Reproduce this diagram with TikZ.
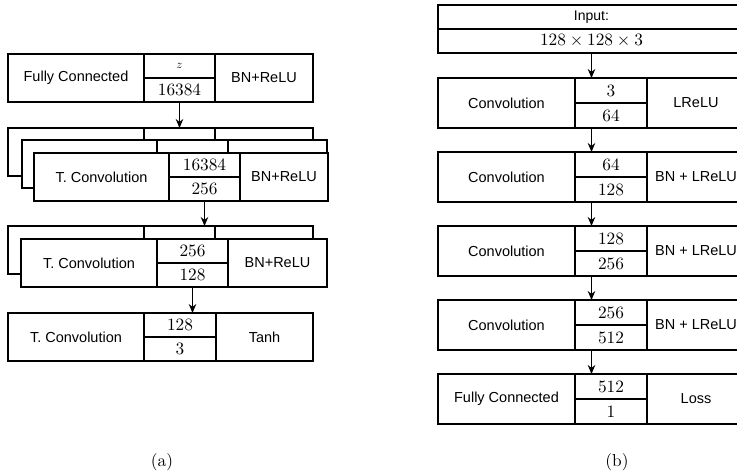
\documentclass[tikz,border=0pt]{standalone}
\usepackage{amsmath}
\usepackage{fontspec}
\newfontfamily\lblfont{Liberation Sans}
\usetikzlibrary{positioning,arrows.meta}
\newcommand{\nm}[1]{{\normalsize\scalebox{1.73}{$#1$}}}

\begin{document}
\begin{tikzpicture}[x=1pt, y=-1pt,
cell/.style={draw=black, fill=white, line width=1.7pt, outer sep=0pt, inner sep=0pt, font=\lblfont\fontsize{14.5}{17}\selectfont},
lcell/.style={cell, minimum width=136pt, minimum height=48pt},
mcell/.style={cell, minimum width=71pt, minimum height=24pt},
rcell/.style={cell, minimum width=98pt, minimum height=48pt},
blcell/.style={cell, minimum width=137pt, minimum height=50pt},
bmcell/.style={cell, minimum width=72pt, minimum height=25pt},
brcell/.style={cell, minimum width=98pt, minimum height=50pt},
arrow/.style={-{Stealth[length=9pt,width=7.5pt]}, line width=1.2pt},
caption/.style={font=\normalsize}
]
\useasboundingbox (0,0) rectangle (737,472);
\clip (0,0) rectangle (737,472);

%Nodes (a)
\node[lcell, anchor=north west]                  (fc)     at (8,54)  {Fully Connected};
\node[mcell, below right=0pt and 0pt of fc.north east]    (fcin)    {{\normalsize\scalebox{1.2}{$z$}}};
\node[mcell, below=0pt of fcin]                           (fcout)   {\nm{16384}};
\node[rcell, below right=0pt and 0pt of fcin.north east]  (fcact)   {BN+ReLU};

\node[lcell, anchor=north west]                  (ta)     at (8,128)  {};
\node[mcell, minimum height=48pt, below right=0pt and 0pt of ta.north east]  (tam)  {};
\node[rcell, below right=0pt and 0pt of tam.north east]   (tar)     {};
\node[lcell, minimum width=135pt, anchor=north west]     (tb)  at (22,140) {};
\node[mcell, minimum height=48pt, below right=0pt and 0pt of tb.north east]  (tbm)  {};
\node[rcell, minimum width=99pt, below right=0pt and 0pt of tbm.north east]  (tbr)  {};
\node[lcell, minimum width=135pt, anchor=north west]     (tc)  at (34,153) {T. Convolution};
\node[mcell, below right=0pt and 0pt of tc.north east]    (tcin)    {\nm{16384}};
\node[mcell, below=0pt of tcin]                           (tcout)   {\nm{256}};
\node[rcell, minimum width=88pt, below right=0pt and 0pt of tcin.north east] (tcact) {BN+ReLU};

\node[lcell, anchor=north west]                  (ua)     at (8,226)  {};
\node[mcell, minimum height=48pt, below right=0pt and 0pt of ua.north east]  (uam)  {};
\node[rcell, below right=0pt and 0pt of uam.north east]   (uar)     {};
\node[lcell, anchor=north west]                  (ub)     at (21,239) {T. Convolution};
\node[mcell, below right=0pt and 0pt of ub.north east]    (ubin)    {\nm{256}};
\node[mcell, below=0pt of ubin]                           (ubout)   {\nm{128}};
\node[rcell, minimum width=99pt, below right=0pt and 0pt of ubin.north east] (ubact) {BN+ReLU};

\node[lcell, anchor=north west]                  (out)    at (8,313)  {T. Convolution};
\node[mcell, minimum width=72pt, below right=0pt and 0pt of out.north east] (outin)  {\nm{128}};
\node[mcell, minimum width=72pt, below=0pt of outin]     (outout)  {\nm{3}};
\node[rcell, minimum width=97pt, below right=0pt and 0pt of outin.north east] (outact) {Tanh};

%Nodes (b)
\node[cell, minimum width=307pt, minimum height=24pt, anchor=north west, font=\lblfont\fontsize{14}{16}\selectfont] (inp) at (438,5) {Input:};
\node[cell, minimum width=307pt, minimum height=24pt, below=0pt of inp] (inpsize) {\nm{128\times128\times3}};

\node[blcell, anchor=north west]                 (cv1)    at (438,78) {Convolution};
\node[bmcell, below right=0pt and 0pt of cv1.north east]  (cv1in)   {\nm{3}};
\node[bmcell, below=0pt of cv1in]                         (cv1out)  {\nm{64}};
\node[brcell, below right=0pt and 0pt of cv1in.north east] (cv1act) {LReLU};

\node[blcell, below=24pt of cv1]                          (cv2)     {Convolution};
\node[bmcell, below right=0pt and 0pt of cv2.north east]  (cv2in)   {\nm{64}};
\node[bmcell, below=0pt of cv2in]                         (cv2out)  {\nm{128}};
\node[brcell, below right=0pt and 0pt of cv2in.north east] (cv2act) {BN + LReLU};

\node[blcell, below=24pt of cv2]                          (cv3)     {Convolution};
\node[bmcell, below right=0pt and 0pt of cv3.north east]  (cv3in)   {\nm{128}};
\node[bmcell, below=0pt of cv3in]                         (cv3out)  {\nm{256}};
\node[brcell, below right=0pt and 0pt of cv3in.north east] (cv3act) {BN + LReLU};

\node[blcell, below=24pt of cv3]                          (cv4)     {Convolution};
\node[bmcell, below right=0pt and 0pt of cv4.north east]  (cv4in)   {\nm{256}};
\node[bmcell, below=0pt of cv4in]                         (cv4out)  {\nm{512}};
\node[brcell, below right=0pt and 0pt of cv4in.north east] (cv4act) {BN + LReLU};

\node[blcell, below=24pt of cv4]                          (dfc)     {Fully Connected};
\node[bmcell, below right=0pt and 0pt of dfc.north east]  (dfcin)   {\nm{512}};
\node[bmcell, below=0pt of dfcin]                         (dfcout)  {\nm{1}};
\node[brcell, below right=0pt and 0pt of dfcin.north east] (dfcact) {Loss};

\node[caption] (capa) at (162,462) {\scalebox{1.73}{(a)}};
\node[caption] (capb) at (617,462) {\scalebox{1.73}{(b)}};

%Lines
\draw[arrow] (fcout) -- (fcout |- ta.north);
\draw[arrow] (tcout) -- (tcout |- ua.north);
\draw[arrow] (ubout) -- (ubout |- out.north);
\draw[arrow] (inpsize) -- (inpsize |- cv1.north);
\draw[arrow] (inpsize |- cv1.south) -- (inpsize |- cv2.north);
\draw[arrow] (inpsize |- cv2.south) -- (inpsize |- cv3.north);
\draw[arrow] (inpsize |- cv3.south) -- (inpsize |- cv4.north);
\draw[arrow] (inpsize |- cv4.south) -- (inpsize |- dfc.north);
\end{tikzpicture}
\end{document}
